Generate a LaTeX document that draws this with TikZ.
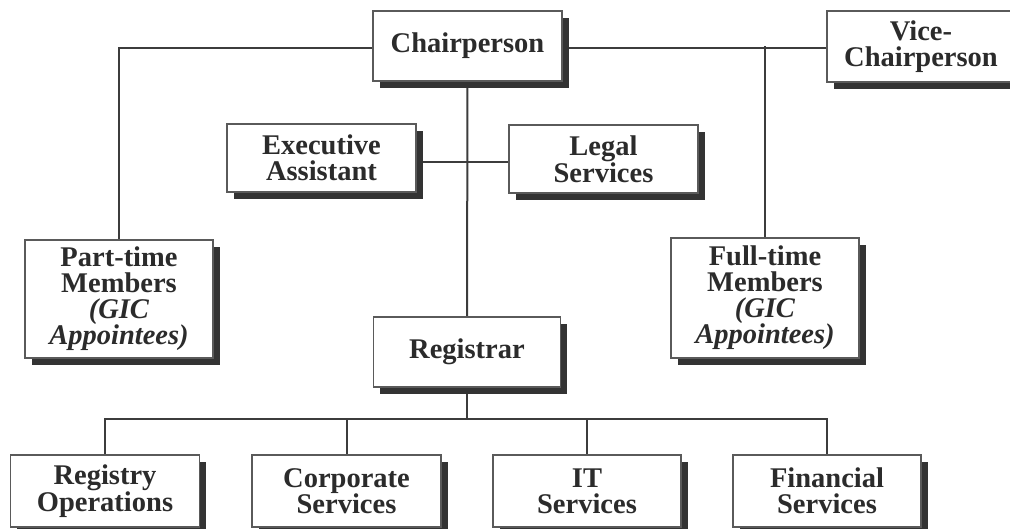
\documentclass[tikz,border=0pt]{standalone}
\usepackage{fontspec}
\setmainfont{Liberation Serif}
\usetikzlibrary{shadows,backgrounds}
\definecolor{txt}{HTML}{2B2B2B}
\definecolor{edge}{HTML}{5A5A5A}
\definecolor{shade}{HTML}{333333}
\definecolor{wire}{HTML}{3C3C3C}
\tikzset{
  box/.style={draw=edge, line width=1.6pt, fill=white, text=txt,
    font=\bfseries\fontsize{28.5}{26}\selectfont, align=center, inner sep=0pt,
    general shadow={fill=shade, shadow xshift=6.5pt, shadow yshift=-7pt}},
  wirel/.style={draw=wire, line width=2pt}
}
\begin{document}
\begin{tikzpicture}[x=1pt,y=-1pt]
\useasboundingbox (0,0) rectangle (1010,529);
\clip (0,0) rectangle (1010,529);
\node[box, minimum width=189pt, minimum height=70pt] (ch) at (467.5,46) {Chairperson};
\node[box, minimum width=188pt, minimum height=71pt] (vc) at (921,46.5) {Vice-\\Chairperson};
\node[box, minimum width=189pt, minimum height=68pt] (ea) at (321.5,158) {Executive\\Assistant};
\node[box, minimum width=189pt, minimum height=68pt] (ls) at (603.5,159) {Legal\\Services};
\node[box, minimum width=188pt, minimum height=118pt] (pt) at (119,299) {Part-time\\Members\\\textit{(GIC}\\\textit{Appointees)}};
\node[box, minimum width=188pt, minimum height=120pt] (ft) at (765,298) {Full-time\\Members\\\textit{(GIC}\\\textit{Appointees)}};
\node[box, minimum width=187pt, minimum height=70pt] (rg) at (467,352) {Registrar};
\node[box, minimum width=189pt, minimum height=72pt] (ro) at (105,491) {Registry\\Operations};
\node[box, minimum width=189pt, minimum height=72pt] (cs) at (346.5,491) {Corporate\\Services};
\node[box, minimum width=188pt, minimum height=72pt] (it) at (587,491) {IT\\Services};
\node[box, minimum width=188pt, minimum height=72pt] (fs) at (827,491) {Financial\\Services};
\coordinate (bus) at (467,419);
\begin{pgfonlayer}{background}
\draw[wirel] (pt.north) |- ([yshift=-1.5pt]vc.west);
\draw[wirel] (ft.north) -- (ft.north |- ch.east);
\draw[wirel] (ch.south) -- (rg.north);
\draw[wirel] ([yshift=-4pt]ea.east) -- ([yshift=-3pt]ls.west);
\draw[wirel] (rg.south) -- (bus);
\draw[wirel] (ro.north) |- (bus);
\draw[wirel] (cs.north) |- (bus);
\draw[wirel] (it.north) |- (bus);
\draw[wirel] (fs.north) |- (bus);
\end{pgfonlayer}
\end{tikzpicture}
\end{document}
